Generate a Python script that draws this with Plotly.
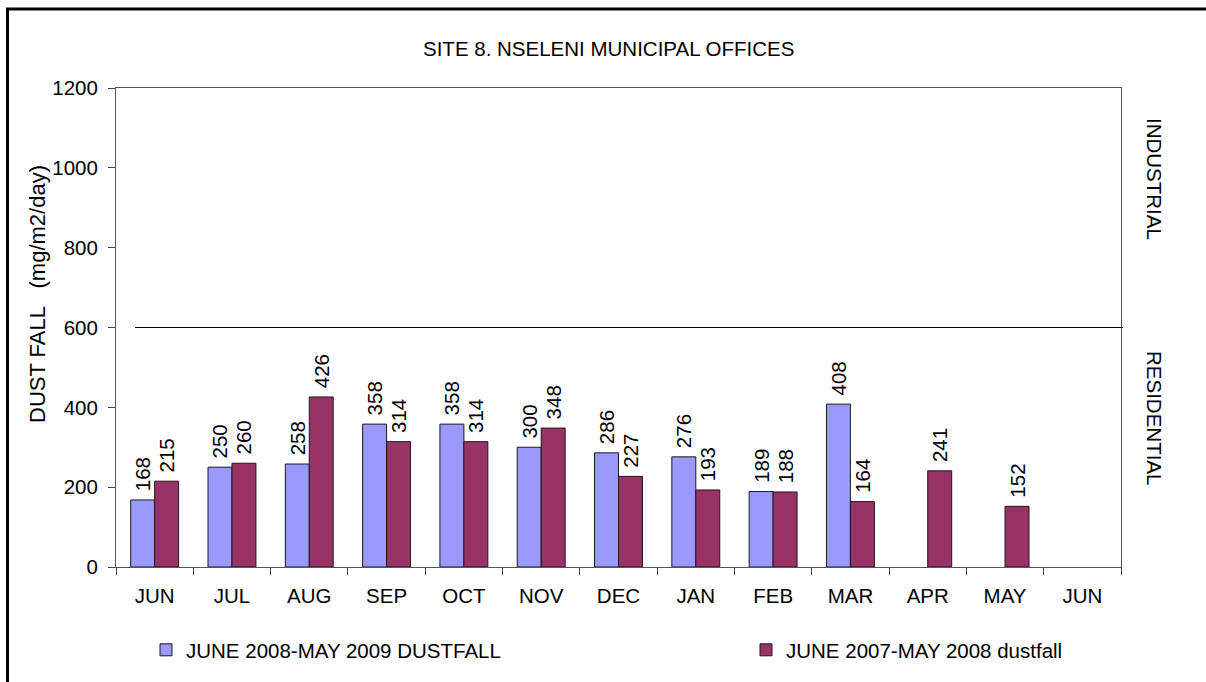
import plotly.graph_objects as go

categories = ["JUN", "JUL", "AUG", "SEP", "OCT", "NOV", "DEC", "JAN", "FEB", "MAR", "APR", "MAY", "JUN "]
tick_labels = ["JUN", "JUL", "AUG", "SEP", "OCT", "NOV", "DEC", "JAN", "FEB", "MAR", "APR", "MAY", "JUN"]
dust_2008_2009 = [168, 250, 258, 358, 358, 300, 286, 276, 189, 408, None, None, None]
dust_2007_2008 = [215, 260, 426, 314, 314, 348, 227, 193, 188, 164, 241, 152, None]
name_2008 = "JUNE 2008-MAY 2009 DUSTFALL"
name_2007 = "JUNE 2007-MAY 2008 dustfall"
limit_value = 600

FONT = "Liberation Sans, Arial, sans-serif"
FS = 20.5

fig = go.Figure()
fig.add_trace(go.Bar(
    x=categories, y=dust_2008_2009, name=name_2008,
    marker=dict(color="#9999FF", line=dict(color="#1a1a1a", width=1)),
    texttemplate="\u00a0%{y}", textposition="outside", textangle=-90,
    constraintext="none", cliponaxis=False,
    textfont=dict(family=FONT, size=FS, color="black"),
    legend="legend",
))
fig.add_trace(go.Bar(
    x=categories, y=dust_2007_2008, name=name_2007,
    marker=dict(color="#993366", line=dict(color="#1a1a1a", width=1)),
    texttemplate="\u00a0%{y}", textposition="outside", textangle=-90,
    constraintext="none", cliponaxis=False,
    textfont=dict(family=FONT, size=FS, color="black"),
    legend="legend2",
))

L, R, T, B = 116, 85, 88, 115
W, H = 1206, 682
pw, ph = W - L - R, H - T - B

def px_x(p):
    return (p - L) / pw

def px_y(p):
    return (H - B - p) / ph

fig.update_layout(
    width=W, height=H,
    margin=dict(l=L, r=R, t=T, b=B, autoexpand=False),
    paper_bgcolor="white", plot_bgcolor="white",
    font=dict(family=FONT, size=FS, color="black"),
    barmode="group", bargap=0.38, bargroupgap=0,
    showlegend=True,
    legend=dict(orientation="h", x=px_x(146), y=px_y(650), xanchor="left", yanchor="middle",
                font=dict(family=FONT, size=FS), bgcolor="rgba(0,0,0,0)"),
    legend2=dict(orientation="h", x=px_x(746), y=px_y(650), xanchor="left", yanchor="middle",
                 font=dict(family=FONT, size=FS), bgcolor="rgba(0,0,0,0)"),
    xaxis=dict(
        type="category", categoryorder="array", categoryarray=categories,
        tickmode="array", tickvals=categories, ticktext=tick_labels,
        tickson="boundaries", ticks="outside", ticklen=7, tickcolor="#444",
        ticklabelstandoff=10,
        showline=True, linecolor="#555", linewidth=1, mirror=True,
        showgrid=False, zeroline=False,
        tickfont=dict(family=FONT, size=FS),
    ),
    yaxis=dict(
        range=[0, 1200], dtick=200, tick0=0,
        ticks="outside", ticklen=7, tickcolor="#444",
        ticklabelstandoff=6,
        showline=True, linecolor="#555", linewidth=1, mirror=True,
        showgrid=False, zeroline=False,
        tickfont=dict(family=FONT, size=FS),
    ),
)

# Industrial/residential limit line
fig.add_shape(type="line", xref="paper", yref="y", x0=px_x(135), x1=px_x(1123),
              y0=limit_value, y1=limit_value, line=dict(color="black", width=1))

# Outer frame (top and left edges)
fig.add_shape(type="line", xref="paper", yref="paper", x0=px_x(6), x1=px_x(W + 5),
              y0=px_y(9), y1=px_y(9), line=dict(color="black", width=3))
fig.add_shape(type="line", xref="paper", yref="paper", x0=px_x(7.5), x1=px_x(7.5),
              y0=px_y(8), y1=px_y(H + 5), line=dict(color="black", width=3))

ann = dict(xref="paper", yref="paper", showarrow=False, xanchor="center", yanchor="middle")
# Title
fig.add_annotation(text="SITE 8. NSELENI MUNICIPAL OFFICES", x=px_x(608), y=px_y(48),
                   font=dict(family=FONT, size=FS), **ann)
# Y axis title
fig.add_annotation(text="DUST FALL   (mg/m2/day)", x=px_x(37), y=px_y(294), textangle=-90,
                   font=dict(family=FONT, size=22), **ann)
# Zone labels
fig.add_annotation(text="INDUSTRIAL", x=px_x(1155), y=px_y(179), textangle=90,
                   font=dict(family=FONT, size=FS), **ann)
fig.add_annotation(text="RESIDENTIAL", x=px_x(1155), y=px_y(418), textangle=90,
                   font=dict(family=FONT, size=FS), **ann)

fig.write_html("out.html", config={"displayModeBar": False},
               post_script="document.body.style.margin='0';")
